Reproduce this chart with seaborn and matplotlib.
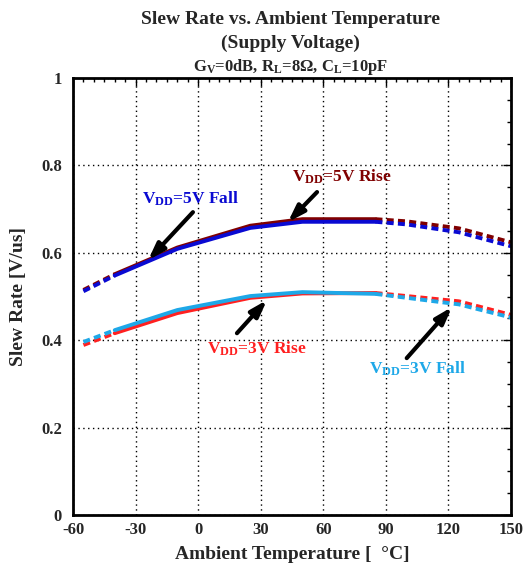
import matplotlib
matplotlib.use("Agg")
import matplotlib.pyplot as plt
import seaborn as sns
import pandas as pd
from matplotlib.ticker import MultipleLocator

# temperatures [degC]; solid part is -40..85, dashed outside
temps = [-55, -40, -10, 25, 50, 85, 100, 125, 150]
sr_5v_rise = [0.515, 0.551, 0.612, 0.662, 0.677, 0.677, 0.672, 0.656, 0.624]
sr_5v_fall = [0.512, 0.548, 0.609, 0.657, 0.671, 0.671, 0.665, 0.647, 0.615]
sr_3v_rise = [0.389, 0.416, 0.462, 0.497, 0.507, 0.508, 0.501, 0.489, 0.458]
sr_3v_fall = [0.396, 0.423, 0.469, 0.501, 0.510, 0.506, 0.497, 0.482, 0.452]

series = [
    ("5V Rise", sr_5v_rise, "#800000"),
    ("5V Fall", sr_5v_fall, "#0a0ad2"),
    ("3V Rise", sr_3v_rise, "#ff2020"),
    ("3V Fall", sr_3v_fall, "#1ea8e8"),
]

sns.set_style("white")
plt.rcParams["font.family"] = ["Liberation Serif", "DejaVu Serif"]
plt.rcParams["font.weight"] = "bold"
plt.rcParams["axes.unicode_minus"] = False
plt.rcParams["mathtext.fontset"] = "custom"
plt.rcParams["mathtext.rm"] = "Liberation Serif:bold"
plt.rcParams["mathtext.default"] = "rm"

fig = plt.figure(figsize=(5.26, 5.69), dpi=100)
ax = fig.add_axes([0.1388, 0.0949, 0.8327, 0.768])

for name, vals, col in series:
    df = pd.DataFrame({"t": temps, "sr": vals})
    sns.lineplot(data=df.iloc[1:6], x="t", y="sr", color=col, lw=2.8, ax=ax)
    for part in (df.iloc[0:2], df.iloc[5:]):
        sns.lineplot(data=part, x="t", y="sr", color=col, lw=2.8,
                     ax=ax).lines[-1].set_dashes((1.8, 1.1))

ax.set_xlim(-60, 150)
ax.set_ylim(0, 1)
ax.xaxis.set_major_locator(MultipleLocator(30))
ax.xaxis.set_minor_locator(MultipleLocator(5))
ax.yaxis.set_minor_locator(MultipleLocator(0.05))
ax.set_yticks([0, 0.2, 0.4, 0.6, 0.8, 1.0])
ax.set_yticklabels(["0", "0.2", "0.4", "0.6", "0.8", "1"])
ax.tick_params(which="both", direction="in", top=True, right=True,
               labelsize=12, width=1, color="black")
ax.tick_params(which="major", length=6)
ax.tick_params(which="minor", length=3)
ax.tick_params(axis="x", which="major", pad=5)
ax.tick_params(axis="y", which="major", pad=8)
for lbl in ax.get_xticklabels() + ax.get_yticklabels():
    lbl.set_fontweight("bold")
ax.grid(True, which="major", color="black", ls=(0, (1, 2.5)), lw=1)
for s in ax.spines.values():
    s.set_color("black")
    s.set_linewidth(2)

ax.set_xlabel("Ambient Temperature [  °C]", fontsize=14, fontweight="bold")
ax.set_ylabel("Slew Rate [V/us]", fontsize=14, fontweight="bold")
ax.xaxis.set_label_coords(0.5, -0.070)
ax.yaxis.set_label_coords(-0.105, 0.5)

fig.text(0.552, 0.966, "Slew Rate vs. Ambient Temperature", ha="center", va="center",
         fontsize=14, fontweight="bold")
fig.text(0.552, 0.923, "(Supply Voltage)", ha="center", va="center",
         fontsize=14, fontweight="bold")
fig.text(0.552, 0.883, r"G$_{V}$=0dB, R$_{L}$=8Ω, C$_{L}$=10pF", ha="center", va="center",
         fontsize=12, fontweight="bold")

arrow = dict(arrowstyle="-|>,head_length=1.0,head_width=0.33", color="black", lw=3,
             shrinkA=0, shrinkB=0)
ax.annotate("", xy=(-24, 0.583), xytext=(-2.5, 0.693), arrowprops=arrow)
ax.annotate("", xy=(43, 0.670), xytext=(57, 0.739), arrowprops=arrow)
ax.annotate("", xy=(121.7, 0.476), xytext=(100, 0.359), arrowprops=arrow)
ax.annotate("", xy=(33, 0.492), xytext=(18.6, 0.416), arrowprops=arrow)

ax.text(-3.5, 0.724, r"V$_{DD}$=5V Fall", color="#0a0ad2", fontsize=12.5, ha="center", va="center")
ax.text(69, 0.773, r"V$_{DD}$=5V Rise", color="#800000", fontsize=12.5, ha="center", va="center")
ax.text(105, 0.334, r"V$_{DD}$=3V Fall", color="#1ea8e8", fontsize=12.5, ha="center", va="center")
ax.text(28, 0.380, r"V$_{DD}$=3V Rise", color="#ff2020", fontsize=12.5, ha="center", va="center")

fig.savefig("out.png", dpi=100)
